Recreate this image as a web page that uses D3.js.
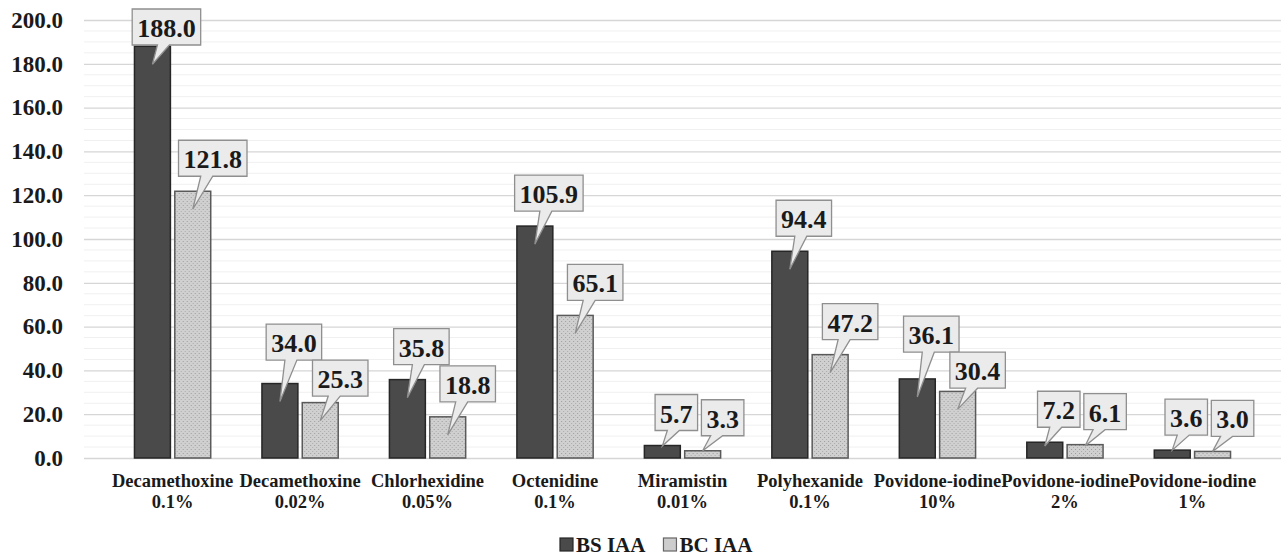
<!DOCTYPE html>
<html>
<head>
<meta charset="utf-8">
<script src="https://cdn.jsdelivr.net/npm/d3@7"></script>
<style>
  html, body { margin: 0; padding: 0; background: #ffffff; }
  svg { display: block; }
  svg text { font-family: "Liberation Serif", "Tinos", "Times New Roman", "DejaVu Serif", serif !important; font-weight: bold; fill: #1a1a1a; }
</style>
</head>
<body>
<svg id="chart" width="1288" height="557"></svg>
<script>
const categories = [
  "Decamethoxine\n0.1%", "Decamethoxine\n0.02%", "Chlorhexidine\n0.05%",
  "Octenidine\n0.1%", "Miramistin\n0.01%", "Polyhexanide\n0.1%",
  "Povidone-iodine\n10%", "Povidone-iodine\n2%", "Povidone-iodine\n1%"
];
const seriesNames = ["BS IAA", "BC IAA"];
const bsValues = [188.0, 34.0, 35.8, 105.9, 5.7, 94.4, 36.1, 7.2, 3.6];
const bcValues = [121.8, 25.3, 18.8, 65.1, 3.3, 47.2, 30.4, 6.1, 3.0];
const yTicks = [0, 20, 40, 60, 80, 100, 120, 140, 160, 180, 200];

const W = 1288, H = 557;
const margin = { left: 84, right: 7, top: 20, bottom: 99 };
const svg = d3.select("#chart");

const defs = svg.append("defs");
const pat = defs.append("pattern").attr("id", "dots").attr("patternUnits", "userSpaceOnUse")
  .attr("width", 4).attr("height", 4);
pat.append("rect").attr("width", 4).attr("height", 4).attr("fill", "#d0d0d0");
pat.append("rect").attr("x", 1).attr("y", 1).attr("width", 1).attr("height", 1).attr("fill", "#9c9c9c");
pat.append("rect").attr("x", 3).attr("y", 3).attr("width", 1).attr("height", 1).attr("fill", "#ababab");

const x0 = d3.scaleBand().domain(categories).range([margin.left, W - margin.right]).padding(0.39);
const x1 = d3.scaleBand().domain(seriesNames).range([0, x0.bandwidth()]).paddingInner(0.0714).paddingOuter(0);
const y = d3.scaleLinear().domain([0, 200]).range([H - margin.bottom, margin.top]);

// minor grid
const minor = d3.range(0, 201, 5).filter(v => v % 20 !== 0);
svg.append("g").selectAll("line").data(minor).join("line")
  .attr("x1", margin.left).attr("x2", W - margin.right)
  .attr("y1", d => y(d)).attr("y2", d => y(d))
  .attr("stroke", "#f0f0f0").attr("stroke-width", 1);

// major grid + y axis labels
const yAxis = d3.axisLeft(y).tickValues(yTicks).tickFormat(d3.format(".1f"))
  .tickSize(-(W - margin.left - margin.right)).tickPadding(21);
const gy = svg.append("g").attr("transform", `translate(${margin.left},0)`).call(yAxis);
gy.attr("font-family", null).attr("font-size", null);
gy.select(".domain").remove();
gy.selectAll(".tick line").attr("stroke", "#d6d6d6").attr("stroke-width", 1.3);
gy.selectAll(".tick text").attr("font-size", 23).attr("fill", "#1a1a1a");

// bars
const seriesData = [bsValues, bcValues];
const barFill = ["#4a4a4a", "url(#dots)"];
const barStroke = ["#262626", "#5a5a5a"];
const groups = svg.append("g").selectAll("g").data(categories).join("g")
  .attr("transform", d => `translate(${x0(d)},0)`);
groups.selectAll("rect").data((c, i) => seriesNames.map((s, k) => ({ s, k, v: seriesData[k][i] })))
  .join("rect")
  .attr("x", d => x1(d.s) + 0.75).attr("width", x1.bandwidth() - 1.5)
  .attr("y", d => y(d.v)).attr("height", d => y(0) - y(d.v))
  .attr("fill", d => barFill[d.k]).attr("stroke", d => barStroke[d.k]).attr("stroke-width", 1.5);

// category labels
const gx = svg.append("g");
categories.forEach(c => {
  const lines = c.split("\n");
  const cx = x0(c) + x0.bandwidth() / 2;
  const t = gx.append("text").attr("text-anchor", "middle").attr("font-size", 18.5);
  lines.forEach((ln, j) => {
    t.append("tspan").attr("x", cx).attr("y", 487 + j * 21).text(ln);
  });
});

// callouts
const calloutLayer = svg.append("g");
const boxH = 36, dxSeries = [14, 20], gapAbove = 15;
categories.forEach((c, i) => {
  const boxes = seriesNames.map((s, k) => {
    const v = seriesData[k][i];
    const bx = x0(c) + x1(s) + x1.bandwidth() / 2;
    const top = y(v);
    const barH = y(0) - top;
    const g = calloutLayer.append("g");
    const path = g.append("path");
    const txt = g.append("text").attr("text-anchor", "middle").attr("font-size", 26).text(d3.format(".1f")(v));
    const tw = txt.node().getComputedTextLength();
    const bw = tw + 10;
    const cx = bx + dxSeries[k];
    let bottom = top - gapAbove;
    if (bottom - boxH < 9) bottom = 9 + boxH;
    return { g, path, txt, bx, top, barH, cx, bw, bottom };
  });
  const a = boxes[0], b = boxes[1];
  const xOverlap = (a.cx + a.bw / 2) > (b.cx - b.bw / 2) && (b.cx + b.bw / 2) > (a.cx - a.bw / 2);
  const ov = a.bottom - (b.bottom - boxH);
  if (xOverlap && ov > 0 && a.bottom <= b.bottom) {
    a.bottom -= ov / 2; b.bottom += ov / 2;
  }
  boxes.forEach(o => {
    const l = o.cx - o.bw / 2, r = o.cx + o.bw / 2, tp = o.bottom - boxH, bt = o.bottom;
    const tipX = o.bx, tipY = o.top + Math.min(18, Math.max(0, o.barH - 12));
    let b0 = tipX - 2 + (o.cx - tipX) * 0.5;
    b0 = Math.max(l + 3, Math.min(r - 15, b0));
    const b1 = b0 + 12;
    o.path.attr("d", `M${l},${tp}L${r},${tp}L${r},${bt}L${b1},${bt}L${tipX},${tipY}L${b0},${bt}L${l},${bt}Z`)
      .attr("fill", "#ebebeb").attr("stroke", "#8f8f8f").attr("stroke-width", 1.3);
    o.txt.attr("x", o.cx).attr("y", bt - 8);
  });
});

// legend
const legend = svg.append("g");
let lx = 560;
seriesNames.forEach((s, k) => {
  legend.append("rect").attr("x", lx).attr("y", 538).attr("width", 13).attr("height", 13)
    .attr("fill", k === 0 ? "#4a4a4a" : "#cdcdcd").attr("stroke", k === 0 ? "#262626" : "#666").attr("stroke-width", 1.2);
  const t = legend.append("text").attr("x", lx + 16).attr("y", 552).attr("font-size", 21).text(s);
  lx += 16 + t.node().getComputedTextLength() + 18;
});
</script>
</body>
</html>
